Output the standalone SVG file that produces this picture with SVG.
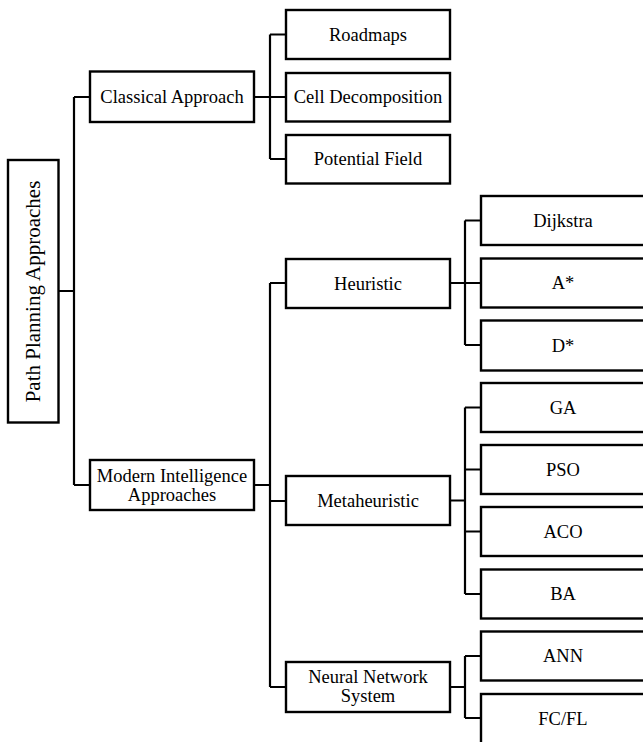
<svg xmlns="http://www.w3.org/2000/svg" width="643" height="742" viewBox="0 0 643 742">
<style>
.box{fill:#fff;stroke:#000;stroke-width:2.4}
.ln{fill:none;stroke:#000;stroke-width:2.2}
text{font-family:"Liberation Serif","Times New Roman",serif;font-size:18.5px;fill:#000;text-anchor:middle}
.root{font-size:21px}
</style>
<rect width="643" height="742" fill="#fff"/>
<g id="connectors">
<path class="ln" d="M58,291 H74 M74,97 V485 M74,97 H90 M74,485 H90"/>
<path class="ln" d="M254,97 H286 M270,34.5 V159 M270,34.5 H286 M270,159 H286"/>
<path class="ln" d="M254,485 H270 M270,283 V687 M270,283 H286 M270,501 H286 M270,687 H286"/>
<path class="ln" d="M450,283 H481 M465,220.5 V345 M465,220.5 H481 M465,345 H481"/>
<path class="ln" d="M450,500.5 H465 M465,407.5 V594 M465,407.5 H481 M465,469.5 H481 M465,531.5 H481 M465,594 H481"/>
<path class="ln" d="M450,687 H465 M465,656 V718 M465,656 H481 M465,718 H481"/>
</g>
<g id="root"><rect class="box" x="8" y="160" width="50.5" height="262.5"/><text class="root" transform="translate(40,291.5) rotate(-90)" x="0" y="0">Path Planning Approaches</text></g>
<g id="classical"><rect class="box" x="90" y="71.5" width="164" height="50.5"/><text x="172" y="103">Classical Approach</text></g>
<g id="roadmaps"><rect class="box" x="286" y="10" width="164" height="49"/><text x="368" y="40.5">Roadmaps</text></g>
<g id="cell"><rect class="box" x="286" y="73" width="164" height="48.5"/><text x="368" y="103">Cell Decomposition</text></g>
<g id="potential"><rect class="box" x="286" y="135" width="164" height="48.5"/><text x="368" y="165">Potential Field</text></g>
<g id="modern"><rect class="box" x="90" y="460" width="164" height="50"/><text x="172" y="481.5">Modern Intelligence</text><text x="172" y="500.5">Approaches</text></g>
<g id="heuristic"><rect class="box" x="286" y="259" width="164" height="49"/><text x="368" y="289.5">Heuristic</text></g>
<g id="metaheuristic"><rect class="box" x="286" y="476" width="164" height="49"/><text x="368" y="506.5">Metaheuristic</text></g>
<g id="neural"><rect class="box" x="286" y="662" width="164" height="50"/><text x="368" y="683">Neural Network</text><text x="368" y="702">System</text></g>
<g id="dijkstra"><rect class="box" x="481" y="196" width="164" height="49"/><text x="563" y="226.5">Dijkstra</text></g>
<g id="astar"><rect class="box" x="481" y="258.5" width="164" height="49"/><text x="563" y="289">A*</text></g>
<g id="dstar"><rect class="box" x="481" y="320.5" width="164" height="50"/><text x="563" y="351.5">D*</text></g>
<g id="ga"><rect class="box" x="481" y="383" width="164" height="49"/><text x="563" y="414">GA</text></g>
<g id="pso"><rect class="box" x="481" y="445" width="164" height="49"/><text x="563" y="476">PSO</text></g>
<g id="aco"><rect class="box" x="481" y="507" width="164" height="49"/><text x="563" y="538">ACO</text></g>
<g id="ba"><rect class="box" x="481" y="569.5" width="164" height="49"/><text x="563" y="600">BA</text></g>
<g id="ann"><rect class="box" x="481" y="631.5" width="164" height="49"/><text x="563" y="662">ANN</text></g>
<g id="fcfl"><rect class="box" x="481" y="694" width="164" height="50"/><text x="563" y="725">FC/FL</text></g>
</svg>
